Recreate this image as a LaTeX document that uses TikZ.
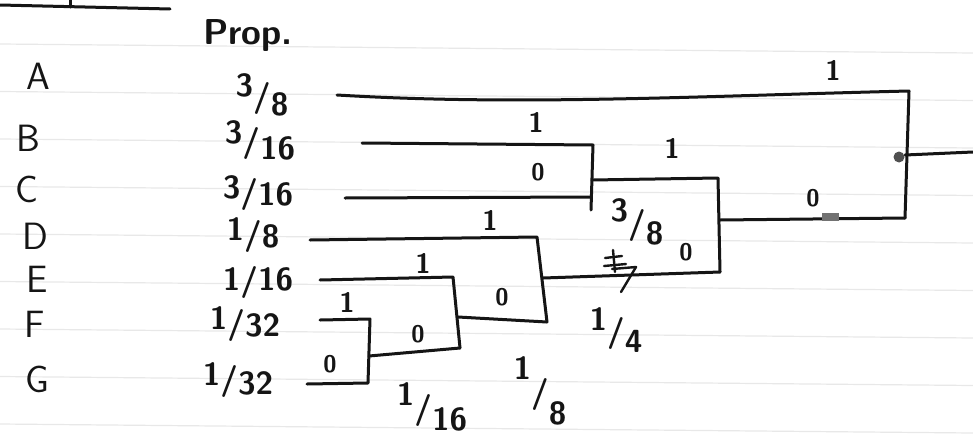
\documentclass[tikz,border=0pt]{standalone}
\usepackage{fontspec}
\definecolor{ink}{HTML}{151515}
\definecolor{ruled}{HTML}{E8E8E8}
\newcommand\dfr[3][0.2em]{\raisebox{#1}{#2}/\raisebox{-#1}{#3}}
\begin{document}
\begin{tikzpicture}[x=1pt,y=-1pt,
  wire/.style={draw=ink, line width=3pt, line cap=round, line join=round},
  rulestyle/.style={draw=ruled, line width=1.2pt},
  lbl/.style={font=\sffamily\bfseries\fontsize{28}{30}\selectfont, text=ink, inner sep=0pt},
  zero/.style={font=\sffamily\bfseries\fontsize{24}{26}\selectfont, text=ink, inner sep=0pt},
  letter/.style={font=\sffamily\fontsize{38}{40}\selectfont, text=ink, inner sep=0pt},
  frac/.style={font=\sffamily\bfseries\fontsize{32}{34}\selectfont, text=ink, inner sep=0pt}]
\useasboundingbox (0,0) rectangle (973,439);
\fill[white] (0,0) rectangle (973,439);
% notebook ruling
\foreach \k in {0,...,8}
  \draw[rulestyle] (0,{44+47.5*\k}) -- (973,{53+47.5*\k});
% cut-off title underline
\coordinate (t0) at (0,5);
\coordinate (t1) at (170,9);
\coordinate (tk) at (70,7);
\draw[wire] (t0) -- (t1);
\draw[wire] (tk) -- ++(0,-7);
% header
\node[letter, font=\sffamily\bfseries\fontsize{36}{40}\selectfont] (prop) at (248,35) {Prop.};
% symbols
\node[letter] (A) at (38,76) {A};
\node[letter] (B) at (28,138) {B};
\node[letter] (C) at (27,189) {C};
\node[letter] (D) at (35,236) {D};
\node[letter] (E) at (37,279) {E};
\node[letter] (F) at (35,324) {F};
\node[letter] (G) at (37,379) {G};
% probabilities
\node[frac] (pA) at (262,95) {\dfr[0.3em]{3}{8}};
\node[frac] (pB) at (260,140) {\dfr[0.25em]{3}{16}};
\node[frac] (pC) at (258,193) {\dfr[0.1em]{3}{16}};
\node[frac] (pD) at (253,235) {\dfr[0.1em]{1}{8}};
\node[frac] (pE) at (258,282) {\dfr[0em]{1}{16}};
\node[frac] (pF) at (245,324) {\dfr[0.1em]{1}{32}};
\node[frac] (pG) at (238,380) {\dfr[0.15em]{1}{32}};
% leaf starts
\coordinate (aS) at (337,95);
\coordinate (bS) at (362,143);
\coordinate (cS) at (345,198);
\coordinate (dS) at (310,240);
\coordinate (eS) at (320,280);
\coordinate (fS) at (320,320);
\coordinate (gS) at (307,384);
% junctions
\coordinate (fgT) at (370,319);
\coordinate (fgB) at (368,383);
\coordinate (fgM) at (369,356);
\coordinate (efgT) at (453,277);
\coordinate (efgB) at (460,348);
\coordinate (efgM) at (458,317);
\coordinate (defgT) at (537,237);
\coordinate (defgB) at (547,322);
\coordinate (defgM) at (543,278);
\coordinate (bcT) at (593,145);
\coordinate (bcB) at (591,210);
\coordinate (bcC) at (591,197);
\coordinate (bcM) at (592,180);
\coordinate (n5T) at (718,178);
\coordinate (n5B) at (720,272);
\coordinate (n5M) at (720,220);
\coordinate (rT) at (909,91);
\coordinate (rB) at (905,218);
\coordinate (rM) at (905,155);
\coordinate (out) at (973,152);
% connectors
\draw[wire] (aS) .. controls (520,106) and (700,96) .. (rT) -- (rB);
\draw[wire] (bS) -- (bcT) -- (bcB);
\draw[wire] (cS) -- (bcC);
\draw[wire] (bcM) -- (n5T) -- (n5B);
\draw[wire] (dS) -- (defgT) -- (defgB);
\draw[wire] (eS) -- (efgT) -- (efgB);
\draw[wire] (fS) -- (fgT) -- (fgB) -- (gS);
\draw[wire] (fgM) -- (efgB);
\draw[wire] (efgM) -- (defgB);
\draw[wire] (defgM) -- (n5B);
\draw[wire] (n5M) -- (rB);
\draw[wire] (rM) -- (out);
% blobs
\fill[ink!75] (899,157) circle (5.5pt);
\fill[ink!60] (822,213) rectangle (839,221);
% scribble on the 1/4 branch
\draw[wire, line width=2.4pt] (613,250) -- (615,272);
\draw[wire, line width=2.4pt] (605,258) -- (622,256);
\draw[wire, line width=2.4pt] (604,266) -- (626,264);
\draw[wire, line width=2.4pt] (612,269) -- (636,267) -- (621,292);
% branch labels
\node[lbl] (l1r) at (833,70) {1};
\node[zero] (l0r) at (813,198) {0};
\node[lbl] (l1b) at (536,122) {1};
\node[zero] (l0c) at (538,172) {0};
\node[lbl] (l1bc) at (672,148) {1};
\node[zero] (l0d) at (686,252) {0};
\node[lbl] (l1d) at (490,220) {1};
\node[lbl] (l1e) at (423,263) {1};
\node[lbl] (l1f) at (347,302) {1};
\node[zero] (l0g) at (330,364) {0};
\node[zero] (l0fg) at (418,334) {0};
\node[zero] (l0efg) at (502,297) {0};
% internal weights
\node[frac] (w38) at (637,222) {\dfr[0.35em]{3}{8}};
\node[frac] (w14) at (616,330) {\dfr[0.35em]{1}{4}};
\node[frac] (w18) at (540,391) {\dfr[0.7em]{1}{8}};
\node[frac] (w116) at (432,407) {\dfr[0.4em]{1}{16}};
\end{tikzpicture}
\end{document}
